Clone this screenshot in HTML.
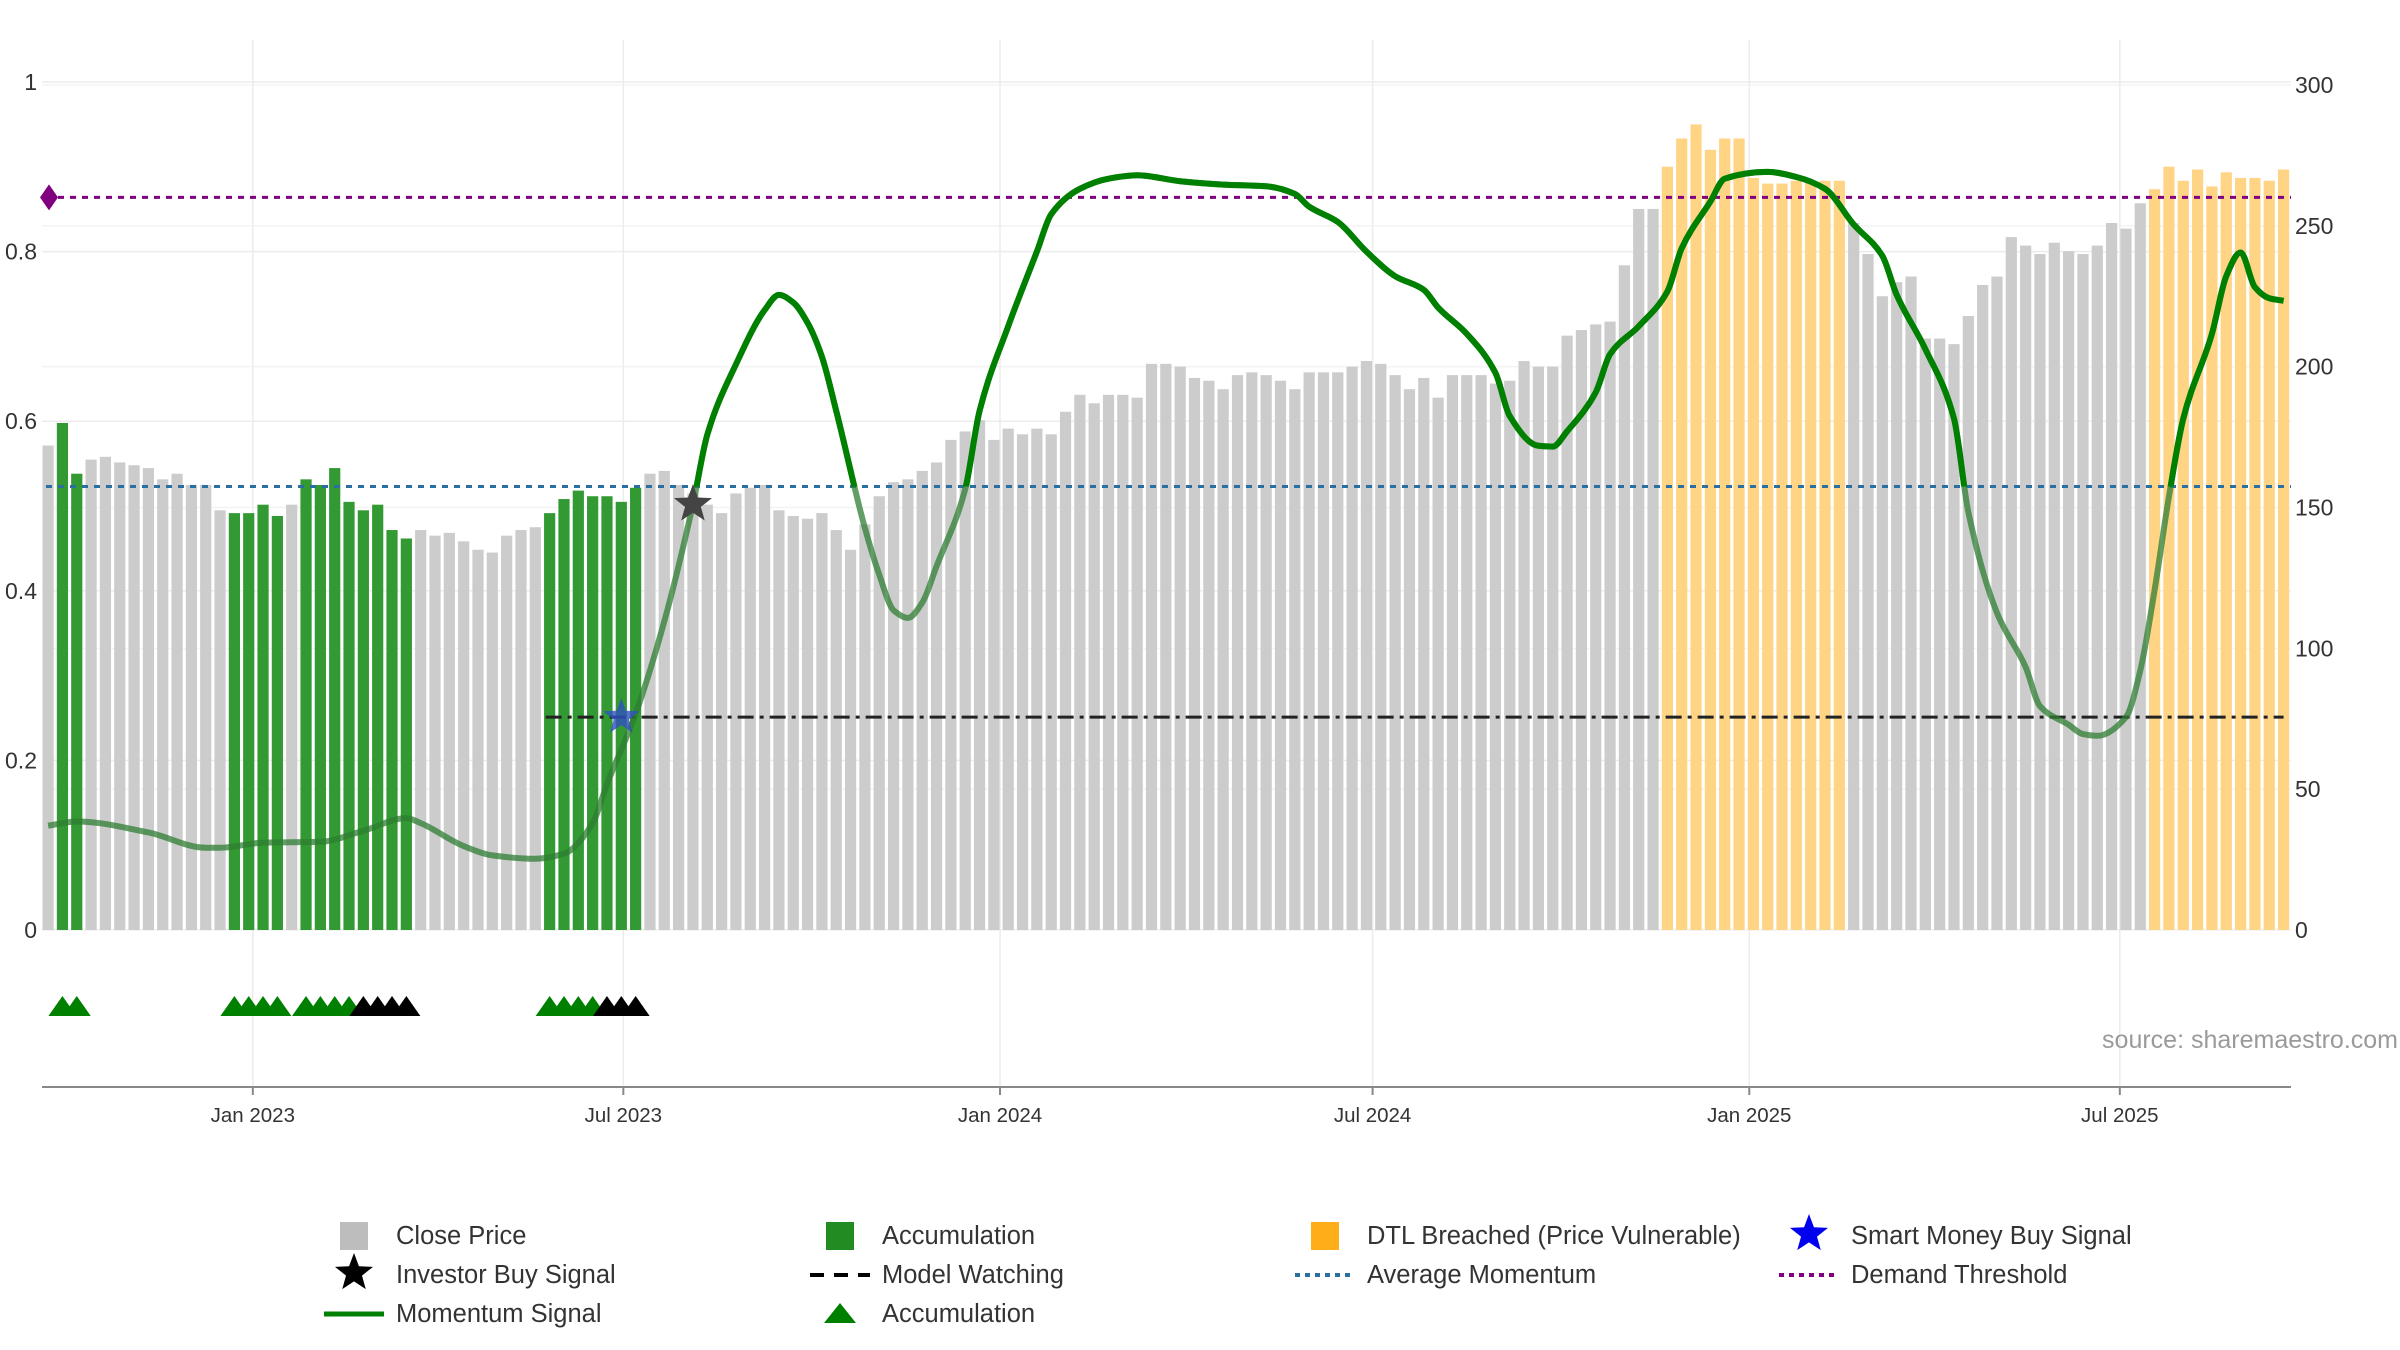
<!DOCTYPE html>
<html><head><meta charset="utf-8"><style>
body{margin:0;background:#fff;}
svg{display:block;font-family:"Liberation Sans","DejaVu Sans",sans-serif;}
</style></head><body>
<svg id="chart" width="2400" height="1350" viewBox="0 0 2400 1350" xmlns="http://www.w3.org/2000/svg">
<defs><clipPath id="aboveAvg"><rect id="clipRect" x="0" y="0" width="2400" height="0"/></clipPath></defs>
<g id="grid"></g>
<g id="bars"></g>
<g id="lines"></g>
<g id="mom"></g>
<g id="marks"></g>
<g id="axes"></g>
<text x="2398" y="1048" text-anchor="end" font-size="25" fill="#9a9a9a">source: sharemaestro.com</text>
<g id="legend"></g>
</svg>
<script>
const prices = [172,180,162,167,168,166,165,164,160,162,158,158,149,148,148,151,147,151,160,158,164,152,149,151,142,139,142,140,141,138,135,134,140,142,143,148,153,156,154,154,152,157,162,163,158,155,151,148,155,157,158,149,147,146,148,142,135,144,154,159,160,163,166,174,177,181,174,178,176,178,176,184,190,187,190,190,189,201,201,200,196,195,192,197,198,197,195,192,198,198,198,200,202,201,197,192,196,189,197,197,197,194,195,202,200,200,211,213,215,216,236,256,256,271,281,286,277,281,281,267,265,265,266,266,266,266,251,240,225,230,232,210,210,208,218,229,232,246,243,240,244,241,240,243,251,249,258,263,271,266,270,264,269,267,267,266,270];
const accumIdx = [2,3,14,15,16,17,19,20,21,22,23,24,25,26,36,37,38,39,40,41,42];
const dtlRanges = [[114,126],[148,157]];
const triGreen = [2,3,14,15,16,17,19,20,21,22,36,37,38,39];
const triBlack = [23,24,25,26,40,41,42];
const momIdx = [1,3,8,12,13,16,20,23,26,27,30,32,35,37,39,40,42,44,46,47,49,51,52,53,54,55,56,58,59,60,61,62,63,65,66,68,70,71,73,75,77,80,83,86,88,89,91,93,95,97,98,100,102,103,105,106,107,109,110,112,114,115,117,118,121,123,125,127,129,130,132,134,135,137,139,140,142,143,144,146,147,148,149,150,152,153,154,155,156,157];
const momVal = [0.123,0.128,0.115,0.097,0.097,0.103,0.104,0.117,0.132,0.126,0.099,0.088,0.084,0.09,0.126,0.172,0.255,0.364,0.502,0.584,0.667,0.731,0.749,0.74,0.716,0.676,0.612,0.474,0.419,0.377,0.368,0.386,0.429,0.52,0.612,0.712,0.8,0.844,0.874,0.886,0.89,0.883,0.879,0.877,0.868,0.853,0.835,0.8,0.771,0.755,0.734,0.703,0.657,0.606,0.571,0.57,0.588,0.634,0.679,0.712,0.753,0.804,0.859,0.886,0.894,0.888,0.874,0.832,0.795,0.749,0.685,0.603,0.493,0.374,0.31,0.264,0.242,0.231,0.229,0.251,0.306,0.401,0.511,0.603,0.703,0.771,0.799,0.758,0.745,0.742];
const avgMomentum = 0.523;
const demandThreshold = 0.864;
const modelWatching = 0.251;
const modelWatchStart = 36;
const smartMoney = [41, 0.251];
const investorBuy = [46, 0.502];
const leftTicks = [0,0.2,0.4,0.6,0.8,1];
const leftTickLabels = ["0","0.2","0.4","0.6","0.8","1"];
const rightTicks = [0,50,100,150,200,250,300];
const dateTicks = ["2023-01-01","2023-07-01","2024-01-01","2024-07-01","2025-01-01","2025-07-01"];
const dateTickLabels = ["Jan 2023","Jul 2023","Jan 2024","Jul 2024","Jan 2025","Jul 2025"];
const firstDate = "2022-09-23";

const NS="http://www.w3.org/2000/svg";
const L=42,R=2291,Y0=930;
const xIdx=i=>48.1+14.33*(i-1);
const yL=v=>Y0-v*848;
const yP=p=>Y0-p*(845/300);
const xDate=d=>{const days=(new Date(d)-new Date(firstDate))/86400000;return xIdx(1)+days/7*14.33;};
function mk(tag,attrs,parent){const e=document.createElementNS(NS,tag);for(const k in attrs)e.setAttribute(k,attrs[k]);parent.appendChild(e);return e;}
const G=id=>document.getElementById(id);

leftTicks.forEach(v=>{const l=mk('line',{x1:L,x2:R,y1:yL(v),y2:yL(v),stroke:'#ececec','stroke-width':1.5},G('grid'));

});
rightTicks.forEach(v=>{const l=mk('line',{x1:L,x2:R,y1:yP(v),y2:yP(v),stroke:'#f3f3f3','stroke-width':1.5},G('grid'));

});
dateTicks.forEach(d=>{const x=xDate(d);const l=mk('line',{x1:x,x2:x,y1:40,y2:1087,stroke:'#ececec','stroke-width':1.5},G('grid'));

});

prices.forEach((p,k)=>{const i=k+1;let c='#cccccc',n='close-price-bar';
if(accumIdx.includes(i)){c='#339933';n='accumulation-bar';}
dtlRanges.forEach(r=>{if(i>=r[0]&&i<=r[1]){c='#ffd485';n='dtl-breached-bar';}});
const b=mk('rect',{x:xIdx(i)-5.6,y:yP(p),width:11.2,height:Y0-yP(p),fill:c},G('bars'));

});

let e=mk('line',{x1:L+4,x2:R,y1:yL(demandThreshold),y2:yL(demandThreshold),stroke:'#800080','stroke-width':3,'stroke-dasharray':'6 6'},G('lines'));


e=mk('path',{d:`M${L-2},${yL(demandThreshold)} l9,-13 l9,13 l-9,13z`,fill:'#800080'},G('lines'));


e=mk('line',{x1:L+4,x2:R,y1:yL(avgMomentum),y2:yL(avgMomentum),stroke:'#2a6fa0','stroke-width':3,'stroke-dasharray':'6 6'},G('lines'));


e=mk('line',{x1:xIdx(modelWatchStart)-4,x2:xIdx(157),y1:yL(modelWatching),y2:yL(modelWatching),stroke:'#222','stroke-width':3,'stroke-dasharray':'16 6 4 6'},G('lines'));



// monotone cubic interpolation
const pts=momIdx.map((i,k)=>[xIdx(i),yL(momVal[k])]);
const n=pts.length,dx=[],sl=[],m=[];
for(let k=0;k<n-1;k++){dx[k]=pts[k+1][0]-pts[k][0];sl[k]=(pts[k+1][1]-pts[k][1])/dx[k];}
m[0]=sl[0];m[n-1]=sl[n-2];
for(let k=1;k<n-1;k++){if(sl[k-1]*sl[k]<=0)m[k]=0;else{const w1=2*dx[k]+dx[k-1],w2=dx[k]+2*dx[k-1];m[k]=(w1+w2)/(w1/sl[k-1]+w2/sl[k]);}}
let d=`M${pts[0][0]},${pts[0][1]}`;
for(let k=0;k<n-1;k++){const h=dx[k]/3;d+=` C${pts[k][0]+h},${pts[k][1]+m[k]*h} ${pts[k+1][0]-h},${pts[k+1][1]-m[k+1]*h} ${pts[k+1][0]},${pts[k+1][1]}`;}
G('clipRect').setAttribute('height',yL(avgMomentum));
e=mk('path',{d,fill:'none',stroke:'#2e7d32','stroke-width':6,opacity:0.75,'stroke-linejoin':'round'},G('mom'));


e=mk('path',{d,fill:'none',stroke:'#008000','stroke-width':6,'clip-path':'url(#aboveAvg)','stroke-linejoin':'round'},G('mom'));



function star(cx,cy,r){let s='';for(let k=0;k<10;k++){const a=-Math.PI/2+k*Math.PI/5,rr=k%2?r*0.42:r;s+=(k?'L':'M')+(cx+rr*Math.cos(a))+','+(cy+rr*Math.sin(a));}return s+'Z';}
e=mk('path',{d:star(xIdx(smartMoney[0]),yL(smartMoney[1]),19),fill:'#3050c0',opacity:0.8},G('marks'));


e=mk('path',{d:star(xIdx(investorBuy[0]),yL(investorBuy[1]),20),fill:'#444'},G('marks'));


triGreen.forEach(i=>{const t=mk('path',{d:`M${xIdx(i)-14},1016 l14,-20 l14,20z`,fill:'#008000'},G('marks'));

});
triBlack.forEach(i=>{const t=mk('path',{d:`M${xIdx(i)-14},1016 l14,-20 l14,20z`,fill:'#000'},G('marks'));

});

e=mk('line',{x1:L,x2:R,y1:1087,y2:1087,stroke:'#888','stroke-width':2},G('axes'));


leftTicks.forEach((v,k)=>{const t=mk('text',{x:37,y:yL(v)+8,'text-anchor':'end','font-size':23,fill:'#333'},G('axes'));t.textContent=leftTickLabels[k];

});
rightTicks.forEach(v=>{const t=mk('text',{x:2295,y:yP(v)+8,'font-size':23,fill:'#333'},G('axes'));t.textContent=v;

});
dateTicks.forEach((dd,k)=>{const x=xDate(dd);const tk=mk('line',{x1:x,x2:x,y1:1087,y2:1095,stroke:'#888','stroke-width':2},G('axes'));


const t=mk('text',{x,y:1122,'text-anchor':'middle','font-size':20.5,fill:'#333'},G('axes'));t.textContent=dateTickLabels[k];

});

const lg=G('legend');
const cols=[354,840,1325,1809],rows=[1236,1275,1314];
const items=[
[0,0,'sq','#bdbdbd','Close Price'],[1,0,'sq','#228b22','Accumulation'],[2,0,'sq','#ffae1a','DTL Breached (Price Vulnerable)'],[3,0,'star','#0000ee','Smart Money Buy Signal'],
[0,1,'star','#000','Investor Buy Signal'],[1,1,'dash','#000','Model Watching'],[2,1,'dot','#2a6fa0','Average Momentum'],[3,1,'dot','#800080','Demand Threshold'],
[0,2,'line','#008000','Momentum Signal'],[1,2,'tri','#008000','Accumulation']];
items.forEach(it=>{const cx=cols[it[0]],cy=rows[it[1]];const g=mk('g',{},lg);


if(it[2]=='sq')mk('rect',{x:cx-14,y:cy-14,width:28,height:28,fill:it[3]},g);
if(it[2]=='star')mk('path',{d:star(cx,cy-2,20),fill:it[3]},g);
if(it[2]=='dash')mk('line',{x1:cx-30,x2:cx+30,y1:cy,y2:cy,stroke:it[3],'stroke-width':4,'stroke-dasharray':'14 10'},g);
if(it[2]=='dot')mk('line',{x1:cx-30,x2:cx+30,y1:cy,y2:cy,stroke:it[3],'stroke-width':4,'stroke-dasharray':'5 5'},g);
if(it[2]=='line')mk('line',{x1:cx-30,x2:cx+30,y1:cy,y2:cy,stroke:it[3],'stroke-width':5},g);
if(it[2]=='tri')mk('path',{d:`M${cx-16},${cy+9} l16,-20 l16,20z`,fill:it[3]},g);
const t=mk('text',{x:cx+42,y:cy+8,'font-size':25.5,fill:'#333'},g);t.textContent=it[4];});
</script>
</body></html>
